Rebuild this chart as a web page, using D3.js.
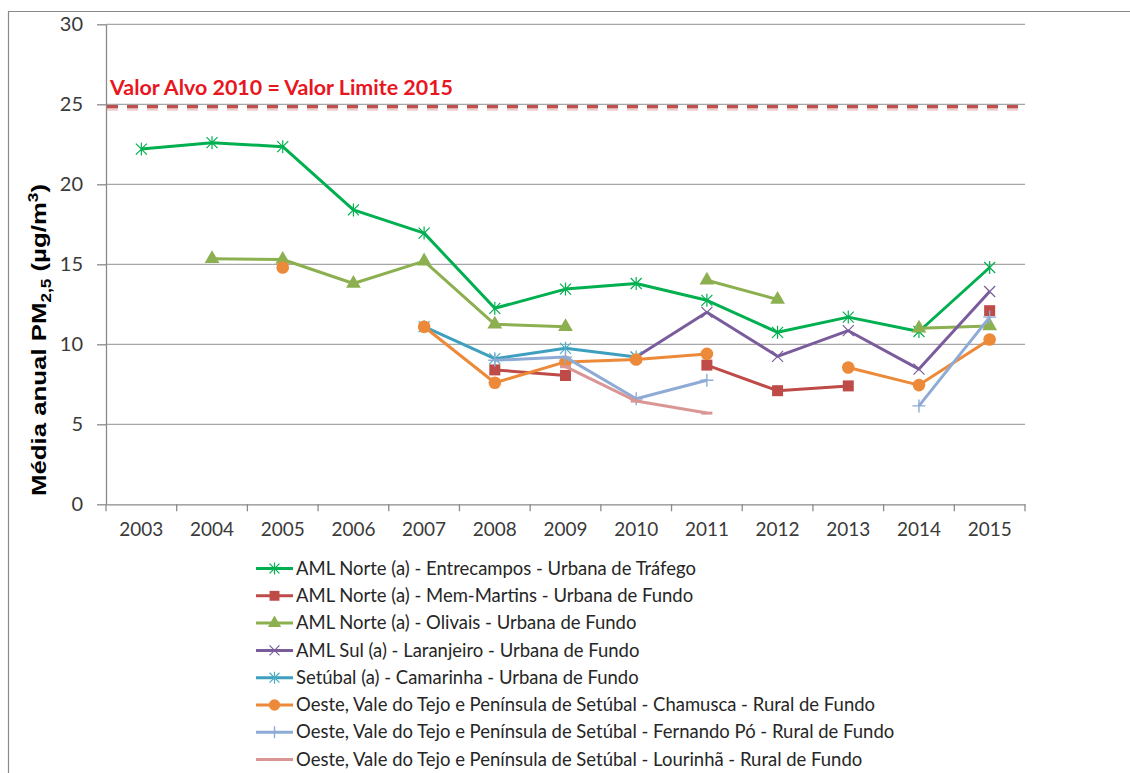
<!DOCTYPE html>
<html><head><meta charset="utf-8">
<script src="https://cdn.jsdelivr.net/npm/d3@7"></script>
<style>body{margin:0;background:#fff} svg{display:block}</style>
</head><body><svg id="c" width="1130" height="773"></svg>
<script>
// ---------- data ----------
const years = [2003, 2004, 2005, 2006, 2007, 2008, 2009, 2010, 2011, 2012, 2013, 2014, 2015];
const yTicks = [0, 5, 10, 15, 20, 25, 30];
const entrecampos = [22.2, 22.6, 22.35, 18.4, 16.95, 12.25, 13.45, 13.8, 12.75, 10.75, 11.7, 10.8, 14.8];
const memMartins  = [null, null, null, null, null, 8.4, 8.05, null, 8.7, 7.1, 7.4, null, 12.1];
const olivais     = [null, 15.35, 15.3, 13.8, 15.2, 11.25, 11.1, null, 14.0, 12.8, null, 11.0, 11.15];
const laranjeiro  = [null, null, null, null, null, null, null, 9.2, 12.0, 9.25, 10.85, 8.45, 13.3];
const camarinha   = [null, null, null, null, 11.1, 9.1, 9.75, 9.2, null, null, null, null, null];
const chamusca    = [null, null, 14.8, null, 11.1, 7.6, 8.9, 9.05, 9.4, null, 8.55, 7.45, 10.3];
const fernandoPo  = [null, null, null, null, null, 9.0, 9.2, 6.6, 7.75, null, null, 6.15, 11.7];
const lourinha    = [null, null, null, null, null, null, 8.6, 6.45, 5.7, null, null, null, null];
const seriesNames = [
  "AML Norte (a) - Entrecampos - Urbana de Tráfego",
  "AML Norte (a) - Mem-Martins - Urbana de Fundo",
  "AML Norte (a) - Olivais - Urbana de Fundo",
  "AML Sul (a) - Laranjeiro - Urbana de Fundo",
  "Setúbal (a) - Camarinha - Urbana de Fundo",
  "Oeste, Vale do Tejo e Península de Setúbal - Chamusca - Rural de Fundo",
  "Oeste, Vale do Tejo e Península de Setúbal - Fernando Pó - Rural de Fundo",
  "Oeste, Vale do Tejo e Península de Setúbal - Lourinhã - Rural de Fundo"
];
const targetValue = 24.85;
const targetLabel = "Valor Alvo 2010 = Valor Limite 2015";

// ---------- styles ----------
const seriesStyle = [
  {color: "#00b050", mcolor: "#00b050", marker: "asterisk"},
  {color: "#be4b48", mcolor: "#be4b48", marker: "square"},
  {color: "#8cb050", mcolor: "#8cb050", marker: "triangle"},
  {color: "#7a5c9c", mcolor: "#7a5c9c", marker: "x"},
  {color: "#3f9fbf", mcolor: "#4bacc6", marker: "asterisk"},
  {color: "#ec8a3a", mcolor: "#ec8a3a", marker: "circle"},
  {color: "#8eabd6", mcolor: "#8eabd6", marker: "plus"},
  {color: "#d99694", mcolor: "#d99694", marker: "dash"}
];
const seriesData = [entrecampos, memMartins, olivais, laranjeiro, camarinha, chamusca, fernandoPo, lourinha];

const svg = d3.select("#c");
const L = 106, R = 1025, T = 24.3, B = 504.3;
const x = d3.scaleBand().domain(years).range([L, R]);
const cx = d => x(d) + x.bandwidth() / 2;
const y = d3.scaleLinear().domain([0, 30]).range([B, T]);
const tickFont = "Lato, 'Open Sans', sans-serif";

// outer border
svg.append("path").attr("d", `M8.5,800 V11.5 H1140`).attr("fill", "none").attr("stroke", "#8a8a8a").attr("stroke-width", 1.2);

// gridlines
svg.append("g").selectAll("line").data(yTicks.filter(v => v > 0)).join("line")
  .attr("x1", L).attr("x2", R).attr("y1", d => y(d)).attr("y2", d => y(d))
  .attr("stroke", "#a6a6a6").attr("stroke-width", 1.3);

// y axis
const yAxis = svg.append("g").attr("transform", `translate(${L},0)`)
  .call(d3.axisLeft(y).tickValues(yTicks).tickSize(9).tickPadding(14).tickSizeOuter(0));
yAxis.select(".domain").attr("stroke", "#8a8a8a").attr("stroke-width", 1.3);
yAxis.selectAll(".tick line").attr("stroke", "#8a8a8a").attr("stroke-width", 1.3);
yAxis.selectAll(".tick text").attr("font-family", tickFont).attr("font-size", 20).attr("fill", "#3a3a3a");

// x axis
const xAxis = svg.append("g").attr("transform", `translate(0,${B})`)
  .call(d3.axisBottom(x).tickSize(0).tickPadding(18).tickSizeOuter(0));
xAxis.select(".domain").attr("stroke", "#8a8a8a").attr("stroke-width", 1.3);
xAxis.selectAll(".tick text").attr("font-family", tickFont).attr("font-size", 19.5).attr("fill", "#3a3a3a")
  .attr("textLength", 44).attr("lengthAdjust", "spacingAndGlyphs");
svg.append("g").selectAll("line").data(years.map(d => x(d)).concat([R])).join("line")
  .attr("x1", d => d).attr("x2", d => d).attr("y1", B).attr("y2", B + 7)
  .attr("stroke", "#8a8a8a").attr("stroke-width", 1.3);

// y axis title
const yt = svg.append("text").attr("transform", "translate(46,340) rotate(-90)")
  .attr("text-anchor", "middle").attr("font-family", "'Liberation Sans', Arial, sans-serif")
  .attr("font-weight", "bold").attr("font-size", 21).attr("fill", "#000");
yt.append("tspan").text("Média anual  PM");
yt.append("tspan").attr("font-size", 14).attr("dy", 5).text("2,5");
yt.append("tspan").attr("dy", -5).text("  (µg/m");
yt.append("tspan").attr("font-size", 14).attr("dy", -8).text("3");
yt.append("tspan").attr("dy", 8).text(")");
yt.attr("textLength", 312).attr("lengthAdjust", "spacingAndGlyphs");

// target line (shadow + dashed line)
svg.append("line").attr("x1", L + 1).attr("x2", R).attr("y1", y(targetValue) + 2.5).attr("y2", y(targetValue) + 2.5)
  .attr("stroke", "#e9c4c3").attr("stroke-width", 3).attr("stroke-dasharray", "11,9").attr("opacity", 0.8);
svg.append("line").attr("x1", L + 1).attr("x2", R).attr("y1", y(targetValue)).attr("y2", y(targetValue))
  .attr("stroke", "#c0504d").attr("stroke-width", 3.2).attr("stroke-dasharray", "11,9");
svg.append("text").attr("x", 110).attr("y", 95).attr("font-family", tickFont)
  .attr("font-weight", "bold").attr("font-size", 21).attr("fill", "#e8161e")
  .attr("textLength", 343).attr("lengthAdjust", "spacingAndGlyphs").text(targetLabel);

// markers
function drawMarker(g, type, color, px, py, scale) {
  const s = 5.5 * scale;
  if (type === "asterisk") {
    g.append("path").attr("d", `M${px-s},${py-s}L${px+s},${py+s}M${px-s},${py+s}L${px+s},${py-s}M${px},${py-s-1}L${px},${py+s+1}`)
      .attr("stroke", color).attr("stroke-width", 1.2).attr("fill", "none");
  } else if (type === "x") {
    g.append("path").attr("d", `M${px-s},${py-s}L${px+s},${py+s}M${px-s},${py+s}L${px+s},${py-s}`)
      .attr("stroke", color).attr("stroke-width", 1.2).attr("fill", "none");
  } else if (type === "plus") {
    g.append("path").attr("d", `M${px-s-1},${py}L${px+s+1},${py}M${px},${py-s-1}L${px},${py+s+1}`)
      .attr("stroke", color).attr("stroke-width", 1.4).attr("fill", "none");
  } else if (type === "dash") {
    g.append("path").attr("d", `M${px-s},${py}L${px+s},${py}`)
      .attr("stroke", color).attr("stroke-width", 3).attr("fill", "none");
  } else if (type === "square") {
    const h = 5.5 * scale;
    g.append("rect").attr("x", px - h).attr("y", py - h).attr("width", 2 * h).attr("height", 2 * h).attr("fill", color);
  } else if (type === "circle") {
    g.append("circle").attr("cx", px).attr("cy", py).attr("r", 6.3 * scale).attr("fill", color);
  } else if (type === "triangle") {
    g.append("path").attr("transform", `translate(${px},${py})`)
      .attr("d", d3.symbol(d3.symbolTriangle, 95 * scale * scale)()).attr("fill", color);
  }
}

// series
const line = d3.line().defined(d => d.v != null).x(d => cx(d.year)).y(d => y(d.v));
seriesData.forEach((vals, i) => {
  const st = seriesStyle[i];
  const pts = years.map((yr, j) => ({year: yr, v: vals[j]}));
  const g = svg.append("g");
  g.append("path").datum(pts).attr("d", line).attr("fill", "none")
    .attr("stroke", st.color).attr("stroke-width", 3).attr("stroke-linejoin", "round");
  pts.filter(p => p.v != null).forEach(p => drawMarker(g, st.marker, st.mcolor, cx(p.year), y(p.v), 1));
});

// legend
const lg = svg.append("g");
const texts = [];
seriesNames.forEach((name, i) => {
  const ly = 568.5 + i * 27.3;
  const st = seriesStyle[i];
  lg.append("line").attr("x1", 256).attr("x2", 293).attr("y1", ly).attr("y2", ly)
    .attr("stroke", st.color).attr("stroke-width", 3);
  drawMarker(lg, st.marker, st.mcolor, 274.5, ly, 0.9);
  const t = lg.append("text").attr("x", 296).attr("y", ly).attr("dy", "0.33em")
    .attr("font-family", tickFont).attr("font-size", 18.5).attr("fill", "#262626").text(name);
  texts.push(t);
});
// compress legend text horizontally to match the narrow original face
const ref = texts[5].node().getComputedTextLength();
const k = 579 / ref;
texts.forEach(t => {
  const w = t.node().getComputedTextLength();
  t.attr("textLength", w * k).attr("lengthAdjust", "spacingAndGlyphs");
});
</script></body></html>
